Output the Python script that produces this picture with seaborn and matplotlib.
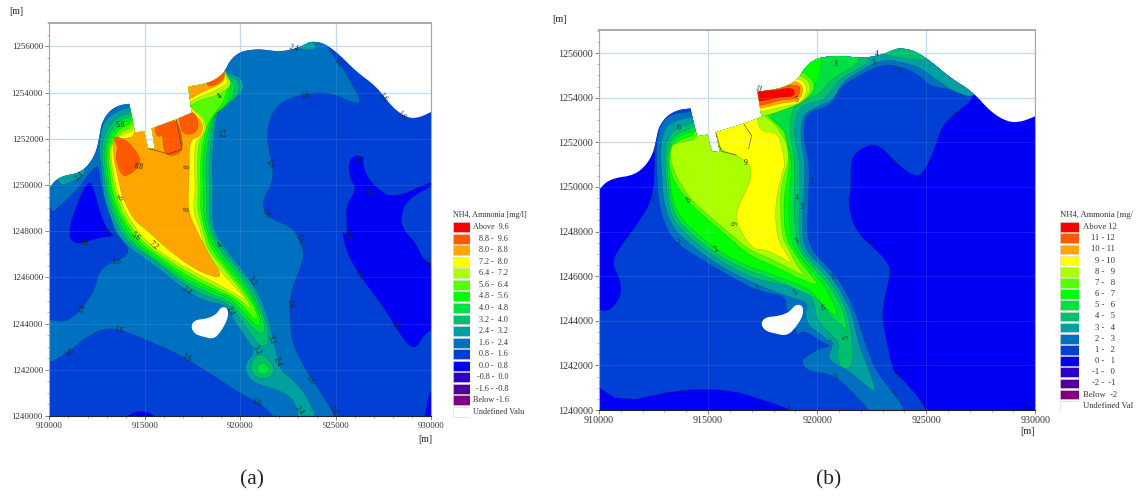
import matplotlib
matplotlib.use('Agg')
import matplotlib.pyplot as plt
from matplotlib.patches import Polygon
import numpy as np
import seaborn as sns

# Map outlines are in km east of 910000 and km north of 1240000.
COAST_WEST = [(0, 9.86), (0.3, 10.2), (0.73, 10.4), (1.6, 10.53), (2.13, 10.94), (2.48, 11.5),
              (2.65, 12.24), (2.74, 12.67), (3.09, 13.17), (3.61, 13.45), (4.19, 13.52)]
COAST_HARBOUR = [(4.49, 12.27), (4.96, 12.34), (5.17, 11.59), (5.53, 11.56), (5.36, 12.45), (6.63, 12.84), (7.45, 13.13)]
COAST_EAST = [(7.27, 14.26), (8.24, 14.4), (8.76, 14.6), (9.15, 14.86), (9.46, 15.4), (9.98, 15.77),
              (10.68, 15.87), (11.2, 15.87), (12.08, 15.77), (12.95, 15.92), (13.4, 16.1), (13.73, 16.23),
              (14.43, 16.13), (15.22, 15.63), (16.09, 14.9), (17.14, 14.26), (18.0, 13.32), (18.8, 12.89),
              (19.4, 12.93), (20, 13.17)]
ISLAND = [(7.45, 3.87), (7.63, 4.13), (8.24, 4.18), (8.76, 4.37), (9.02, 4.7), (9.32, 4.66),
          (9.32, 4.23), (8.94, 3.65), (8.59, 3.36), (8.06, 3.46), (7.63, 3.58)]

SCALE_COLORS = ['#ff0000', '#ff5a00', '#ffa500', '#ffff00', '#aaff00', '#55ff00', '#00ff00', '#00e040',
                '#00c070', '#00a0a0', '#0070c0', '#0040d4', '#0000f5', '#2a00c8', '#500098', '#800080',
                '#ffffff']
LABELS_A = ['Above  9.6', '8.8 -  9.6', '8.0 -  8.8', '7.2 -  8.0', '6.4 -  7.2', '5.6 -  6.4', '4.8 -  5.6',
            '4.0 -  4.8', '3.2 -  4.0', '2.4 -  3.2', '1.6 -  2.4', '0.8 -  1.6', '0.0 -  0.8', '-0.8 -  0.0',
            '-1.6 - -0.8', 'Below -1.6', 'Undefined Valu']
LABELS_B = ['Above 12', '11 - 12', '10 - 11', '9 - 10', '8 -   9', '7 -   8', '6 -   7', '5 -   6', '4 -   5',
            '3 -   4', '2 -   3', '1 -   2', '0 -   1', '-1 -   0', '-2 -  -1', 'Below  -2', 'Undefined Val']

# panel (a): 0.8-1.6 is the background
A_16 = [(-.3, 2.14), (0.91, 2.71), (1.95, 3.43), (3, 3.84), (4.05, 3.65), (5.27, 3.22), (6.49, 2.79), (7.71, 2.21),
        (8.94, 1.56), (9.98, 0.98), (11.2, 0.48), (12.04, -.3), (15.04, -.3), (14.8, .26), (13.65, 1.7), (12.77, 3.0),
        (12.6, 4.0), (12.6, 5.3), (13.1, 6.32), (13.38, 7.04), (12.95, 7.9), (12.6, 8.2), (11.38, 8.63), (11.12, 9.28),
        (11.64, 10.0), (11.73, 10.65), (11.47, 11.66), (11.38, 12.38), (11.73, 13.25), (12.43, 13.75), (14.0, 14.04),
        (15.05, 13.9), (15.74, 13.6), (16.39, 13.53), (15.92, 14.26), (15.39, 15.05), (14.43, 16.06), (14.43, 17),
        (-.3, 17), (-.3, 8.48), (0.99, 9.42), (1.61, 9.93), (2.22, 10.65), (2.57, 10.87), (2.65, 10.2), (2.83, 9.5),
        (3.18, 8.63), (3.44, 7.9), (3.79, 7.69), (4.31, 6.97), (2.65, 6.46), (2.39, 5.45), (1.52, 4.44), (0.73, 4.04),
        (-.3, 4.23)]
A_08_WEST = [(1.05, 8.05), (1.25, 8.75), (2.05, 10.3), (2.4, 9.65), (2.65, 8.8), (3.0, 8.1), (3.3, 7.85),
             (3.35, 7.8), (2.5, 7.7), (1.6, 7.45), (1.1, 7.6)]
A_08_EAST = [(15.6, 8.3), (15.55, 7.8), (15.3, 8.05), (15.6, 7.0), (16.4, 5.9), (17.6, 4.6), (18.3, 3.6),
             (18.9, 3.0), (19.2, 2.95), (19.6, 3.5), (20.3, 3.9), (20.3, 6.54), (19.6, 6.7), (19.2, 7.5), (18.53, 8.05),
             (18.4, 8.6), (18.7, 9.35), (20.3, 10.1), (20, 10.15), (18.0, 9.4), (17.1, 9.9), (16.6, 10.4),
             (16.4, 11.0), (16.5, 11.2), (16.0, 11.3), (15.65, 11.0), (15.75, 10.2), (16.1, 9.9), (15.5, 9.0)]
A_08_SOUTH = [(3.8, -.3), (4.2, .1), (4.8, .22), (5.4, .1), (5.8, -.3)]
A_08_CORNER = [(20.3, 1.1), (19.93, 1.1), (19.75, .4), (19.6, -.3), (20.3, -.3)]
A_24_NW = [(0.47, 9.94), (1.17, 10.14), (1.87, 10.43), (1.87, 11), (0.3, 11)]
A_24_N = [(13.12, 16.06), (13.47, 16.2), (13.9, 16.2), (13.99, 15.87), (13.3, 15.84), (12.95, 16), (13.1, 17), (14, 17)]
A_24 = [(4.3, 14.5), (4.3, 13.35), (3.7, 13.25), (3.2, 13.0), (2.75, 12.6), (2.6, 11.5), (2.75, 10.5), (2.85, 9.5),
        (3.25, 8.5), (3.8, 7.5), (5.62, 6.46), (7.2, 5.4), (8.2, 4.95), (9.3, 4.8), (9.63, 4.16), (10.5, 3.15),
        (10.77, 2.78), (10.33, 2.35), (10.24, 2.0), (10.59, 1.49), (11.38, 1.27), (12.43, .98), (13.0, .4), (13.0, -.3),
        (14.1, -.3), (13.5, .84), (12.78, 1.56), (12.08, 1.99), (11.9, 2.71), (11.64, 3.58), (11.38, 4.44), (10.86, 5.45),
        (9.98, 6.46), (9.28, 7.19), (8.67, 7.9), (8.5, 8.9), (8.59, 9.78), (8.5, 10.65), (8.59, 11.8), (8.76, 13.1),
        (9.11, 13.46), (9.9, 13.82), (10.24, 14.26), (9.98, 14.69), (9.28, 14.86), (9.1, 15.3)]
A_32 = [(4.3, 14.5), (4.26, 13.1), (3.87, 13.07), (3.26, 12.74), (2.9, 12.2), (2.72, 11.5), (2.85, 10.5), (3.0, 9.5),
        (3.4, 8.5), (4.05, 7.5), (5.6, 6.7), (7.1, 5.65), (8.3, 5.15), (9.3, 4.9), (9.95, 4.3), (10.6, 3.5), (11.0, 3.0),
        (11.47, 3.07), (11.5, 3.6), (11.2, 4.5), (10.7, 5.45), (9.8, 6.46), (9.1, 7.2), (8.55, 7.9), (8.35, 8.9),
        (8.42, 9.78), (8.33, 10.65), (8.45, 11.8), (8.65, 13.0), (9.0, 13.35), (9.7, 13.7), (10.0, 14.25), (9.8, 14.6),
        (9.25, 14.78), (9.1, 15.3)]
A_32_BULGE = [(10.68, 2.5), (10.5, 2.0), (10.86, 1.63), (11.55, 1.63), (11.82, 2.0), (11.47, 2.5), (11, 2.7)]
A_40 = [(4.3, 14.5), (4.3, 12.95), (3.87, 12.9), (3.4, 12.55), (3.05, 12.1), (2.85, 11.5), (2.95, 10.5), (3.12, 9.5),
        (3.55, 8.5), (4.3, 7.5), (5.9, 6.55), (7.2, 5.75), (8.4, 5.3), (9.4, 5.0), (10.0, 4.45), (10.7, 3.75), (11.2, 3.5),
        (11.3, 3.9), (11.0, 4.6), (10.5, 5.45), (9.6, 6.46), (8.9, 7.2), (8.43, 7.9), (8.2, 8.9), (8.25, 9.78),
        (8.17, 10.65), (8.3, 11.8), (8.55, 12.9), (8.9, 13.25), (9.5, 13.6), (9.75, 14.25), (9.6, 14.5), (9.2, 14.7),
        (9.1, 15.3)]
A_40_BULGE = [(10.86, 2.14), (10.94, 1.85), (11.38, 1.77), (11.55, 2.05), (11.2, 2.35)]
A_48 = [(4.35, 14.5), (4.35, 12.8), (3.87, 12.72), (3.5, 12.45), (3.15, 12.0), (2.95, 11.5), (3.05, 10.5), (3.22, 9.5),
        (3.7, 8.5), (4.5, 7.5), (6.1, 6.55), (7.3, 5.85), (8.5, 5.4), (9.5, 5.1), (10.05, 4.6), (10.7, 4.0), (10.95, 3.85),
        (11.1, 4.1), (10.85, 4.7), (10.3, 5.5), (9.4, 6.46), (8.7, 7.2), (8.3, 7.9), (8.05, 8.9), (8.1, 9.78), (8.03, 10.65),
        (8.15, 11.8), (8.45, 12.8), (8.75, 13.15), (9.3, 13.45), (9.5, 14.2), (9.4, 14.4), (9.1, 14.6), (9.1, 15.3)]
A_56 = [(4.4, 14.5), (4.4, 12.65), (3.87, 12.55), (3.55, 12.3), (3.25, 11.9), (3.05, 11.5), (3.15, 10.5), (3.35, 9.5),
        (3.85, 8.5), (4.7, 7.5), (6.25, 6.6), (7.45, 5.95), (8.6, 5.5), (9.6, 5.15), (10.15, 4.75), (10.6, 4.3),
        (10.85, 4.15), (10.9, 4.4), (10.6, 4.9), (10.1, 5.55), (9.2, 6.46), (8.5, 7.2), (8.2, 7.9), (7.9, 8.9), (7.95, 9.78),
        (7.9, 10.65), (8.0, 11.8), (8.35, 12.75), (8.6, 13.05), (9.1, 13.55), (9.35, 14.2), (9.2, 14.35), (8.9, 14.5), (9.0, 15.3)]
A_64 = [(7, 14), (4.45, 14.5), (4.45, 12.5), (3.87, 12.35), (3.6, 12.15), (3.3, 11.8), (3.12, 11.5), (3.25, 10.5),
        (3.5, 9.5), (4.0, 8.5), (4.9, 7.5), (6.4, 6.65), (7.6, 6.05), (8.7, 5.6), (9.7, 5.2), (10.25, 4.85), (10.6, 4.55),
        (10.4, 5.0), (9.9, 5.6), (9.05, 6.46), (8.3, 7.2), (8.1, 7.9), (7.75, 8.9), (7.8, 9.78), (7.75, 10.65), (7.8, 11.8),
        (8.1, 12.2), (8.25, 12.5), (8.1, 12.95), (7.5, 13.3)]
A_64_N = [(7.36, 13.42), (7.89, 13.68), (8.59, 13.82), (9.28, 14.11), (9.55, 14.4), (9.28, 14.76), (9.1, 15.2), (7, 15), (7, 13.4)]
A_72 = [(7, 14), (4.5, 14.5), (4.5, 12.35), (4.0, 12.25), (3.6, 12.1), (3.3, 11.7), (3.2, 11.5), (3.35, 10.5),
        (3.62, 9.5), (4.2, 8.5), (5.1, 7.5), (6.55, 6.7), (7.75, 6.15), (8.85, 5.7), (9.8, 5.25), (10.42, 4.95), (9.7, 5.6),
        (8.76, 6.46), (8.1, 7.2), (7.95, 8.0), (7.5, 8.9), (7.65, 9.78), (7.6, 10.65), (7.62, 11.8), (7.95, 12.1),
        (8.15, 12.45), (8.0, 12.9), (7.5, 13.25)]
A_72_N = [(7.36, 13.6), (7.89, 13.82), (8.59, 14.04), (9.2, 14.33), (9.37, 14.47), (9.15, 14.76), (9.1, 15.2), (7, 15), (7, 13.6)]
A_80 = [(7, 14), (4.55, 14.5), (4.55, 12.15), (4.0, 12.0), (3.35, 12.02), (3.35, 11.6), (3.4, 11.0), (3.55, 10.5), (3.8, 9.5),
        (4.4, 8.5), (5.1, 8.05), (6.14, 7.26), (7.19, 6.6), (8.06, 6.18), (9.14, 5.93), (8.41, 6.9), (7.7, 8.05), (7.24, 8.9),
        (7.33, 10.5), (7.33, 11.95), (7.89, 12.09), (8.06, 12.45), (7.98, 12.74), (7.63, 13.03), (7.45, 13.2)]
A_80_N = [(7.36, 13.71), (7.71, 13.9), (8.32, 14.14), (9.02, 14.4), (9.2, 14.62), (9.1, 15.2), (7, 15), (7, 13.71)]
A_88_WEST = [(3.3, 12.1), (3.61, 11.66), (3.45, 11.2), (3.7, 10.55), (3.96, 10.35), (4.5, 10.62), (4.85, 11.08),
             (4.25, 11.8), (3.75, 12.05)]
A_88_MID = [(5.45, 12.55), (6.7, 13.0), (7.1, 11.45), (6.2, 11.2), (5.95, 11.65), (5.95, 12.2), (5.65, 12.05)]
A_88_EAST = [(6.75, 13.1), (7.6, 13.2), (7.85, 12.6), (7.6, 12.2), (7.0, 12.2), (6.85, 12.6)]
A_88_N = [(8.2, 14.29), (8.67, 14.3), (9.07, 14.55), (9.2, 14.8), (9.1, 15.2), (8.2, 15)]
BREAKWATER_A = [(5.2, 11.58), (6.25, 11.35), (6.95, 11.55), (6.65, 12.85)]

# panel (b): 0-1 is the background
B_12 = [(17.32, 14.04), (16.4, 13.36), (15.72, 12.76), (15.34, 11.56), (14.88, 10.66), (14.57, 10.44), (13.8, 10.89),
        (12.74, 12.0), (11.97, 11.71), (11.55, 11.26), (11.55, 10.06), (11.44, 9.16), (11.67, 8.26), (12.12, 7.66),
        (12.35, 7.5), (13.2, 6.68), (13.38, 6.16), (12.97, 4.5), (13.04, 3.75), (13.5, 1.65), (13.73, 1.58), (14.95, .23),
        (14.95, -.3), (9, -.3), (8.76, .08), (5, 1.2), (-.3, .05), (-.3, 4.65), (.35, 4.35), (.96, 4.95), (1.04, 5.7), (.58, 6.6),
        (.89, 7.2), (1.8, 8.4), (2.42, 9.38), (2.57, 10.8), (2.5, 17), (17.32, 17)]
B_23 = [(4.4, 15), (4.4, 13.4), (4.1, 13.36), (3.41, 13.29), (2.95, 13.0), (2.7, 12.4), (2.62, 11.5), (2.65, 10.8), (2.72, 9.31),
        (3.03, 8.26), (3.56, 7.43), (5.17, 6.46), (6.54, 5.71), (7.3, 5.33), (8.61, 5.1), (8.55, 4.5), (9, 4.2), (9.0, 3.3),
        (9.38, 3.6), (10.14, 3.08), (10.67, 2.85), (10.14, 2.78), (9.37, 2.33), (9.3, 2.1), (9.6, 1.73), (10.45, 1.65),
        (11.05, 1.35), (11.82, .6), (12.66, -.3), (14.27, -.3), (13.27, 1.05), (12.66, 1.8), (12.36, 2.55), (12.05, 3.45),
        (11.82, 4.2), (11.36, 5.26), (10.75, 6.16), (9.83, 7.06), (9.53, 7.8), (9.6, 9.46), (9.65, 11.1), (9.37, 12.16), (9.45, 13.36),
        (10.6, 13.59), (11.06, 14.49), (11.82, 14.94), (13.04, 15.54), (14.1, 15.32), (14.88, 14.86), (15.18, 14.49),
        (16.4, 14.34), (17.17, 14.26), (17.4, 15), (14, 17), (9, 17)]
B_34 = [(4.4, 15), (4.4, 13.14), (4.17, 13.14), (3.33, 12.91), (2.98, 12.54), (2.8, 11.6), (2.87, 10.8), (2.95, 9.38), (3.26, 8.4),
        (3.79, 7.73), (5.17, 6.68), (6.54, 5.93), (7.6, 5.48), (8.84, 5.03), (9.6, 4.8), (9.45, 4.35), (9.6, 3.75), (10.14, 3.45),
        (10.75, 2.85), (10.52, 2.48), (10.6, 2.18), (11.5, 1.73), (12.28, 1.05), (12.74, .75), (12.43, 1.65), (12.05, 2.55),
        (11.82, 3.3), (11.59, 4.35), (11.05, 5.4), (10.45, 6.23), (9.53, 7.06), (9.3, 7.8), (9.37, 9.46), (9.45, 11.1), (9.22, 12.2),
        (9.3, 13.2), (10.0, 13.6), (10.75, 13.9), (11.15, 14.7), (11.82, 15.1), (12.6, 15.55), (13.2, 15.72), (14.1, 15.55), (14.85, 15.27),
        (15.6, 14.7), (16.4, 14.2), (17.3, 14.0), (17.4, 15), (14, 17), (9, 17)]
B_45 = [(4.4, 15), (4.4, 13), (4.2, 12.85), (3.55, 12.65), (3.15, 12.2), (3.0, 11.5), (3.05, 10.8), (3.12, 9.4), (3.4, 8.5), (3.95, 7.9),
        (5.2, 6.9), (6.54, 6.13), (7.6, 5.75), (8.76, 5.56), (9.53, 5.4), (9.91, 4.65), (9.91, 4.35), (10.14, 3.83), (11.05, 3.0),
        (10.9, 2.48), (11.05, 1.95), (11.36, 1.8), (11.67, 2.1), (11.59, 3.3), (11.36, 4.5), (10.82, 5.48), (10.2, 6.23), (9.37, 7.06),
        (9.15, 7.8), (9.19, 9.46), (9.22, 11.1), (8.92, 12.3), (9.07, 13.44), (9.52, 13.72), (10.29, 13.89), (10.6, 14.26), (11.06, 14.86),
        (11.97, 15.32), (12.43, 15.69), (12.43, 17), (9, 17)]
B_45_N = [(12.81, 15.99), (13.5, 15.84), (14.57, 15.69), (15.03, 15.69), (15.03, 17), (12.81, 17)]
B_56 = [(4.5, 15), (4.5, 12.7), (4.3, 12.65), (3.7, 12.45), (3.3, 12.1), (3.1, 11.5), (3.12, 10.8), (3.25, 9.4), (3.55, 8.6), (4.1, 8.0),
        (5.2, 7.1), (6.54, 6.35), (7.6, 6.0), (9.6, 5.2), (10.2, 4.8), (10.75, 4.05), (11.2, 3.75), (11.44, 3.3), (11.2, 4.5), (10.6, 5.56),
        (9.98, 6.23), (9.22, 7.06), (9, 7.8), (8.92, 9.46), (9.0, 11.1), (8.69, 12.61), (8.92, 13.66), (9.3, 13.89), (9.83, 14.04),
        (10.29, 14.34), (10.67, 14.86), (11.66, 15.39), (11.97, 15.69), (11.97, 17), (9, 17)]
B_67 = [(4.55, 15), (4.55, 12.55), (4.3, 12.5), (3.7, 12.3), (3.35, 12.0), (3.17, 11.5), (3.2, 10.8), (3.35, 9.45), (3.65, 8.75), (4.2, 8.15),
        (5.2, 7.3), (6.54, 6.55), (7.6, 6.2), (9.6, 5.45), (9.99, 5.03), (10.45, 4.5), (11.05, 4.05), (10.45, 5.48), (9.76, 6.23), (8.99, 7.13),
        (8.76, 7.8), (8.68, 9.46), (8.9, 11.1), (8.45, 12.46), (8.23, 12.76), (7.85, 13.06), (8.1, 13.5), (8.84, 13.74), (9.37, 14.04),
        (9.9, 14.49), (10.21, 15.32), (10.21, 17), (9, 17)]
B_78 = [(7, 13.8), (4.6, 15), (4.6, 12.4), (3.72, 12.15), (3.45, 11.85), (3.2, 11.5), (3.27, 10.8), (3.45, 10.2), (4.17, 9.25), (4.86, 8.65),
        (5.93, 7.75), (6.85, 6.95), (7.9, 6.5), (9.6, 5.7), (10.1, 5.6), (9.5, 6.3), (8.9, 7.1), (8.53, 7.8), (8.45, 9.46), (8.78, 11.1),
        (8.55, 12.4), (8.3, 12.7), (7.95, 13.0), (7.6, 13.3)]
B_78_N = [(7, 15.5), (9.2, 15.3), (10, 14.6), (9.55, 13.9), (8.5, 13.55), (7.8, 13.25), (7, 13.3)]
B_89 = [(7, 14), (4.7, 15), (4.7, 12.16), (3.72, 12.01), (3.26, 11.86), (3.33, 10.8), (4.17, 9.46), (4.86, 8.86), (5.93, 7.96), (6.85, 7.2),
        (7.9, 6.76), (8.99, 6.23), (9.53, 5.93), (9.05, 6.5), (8.7, 7.2), (8.38, 7.8), (8.3, 9.46), (8.4, 10.3), (8.7, 11.1), (8.65, 11.9),
        (8.3, 12.46), (8.15, 12.75), (7.45, 13.3)]
B_89_N = [(7, 15), (9.2, 15.1), (9.8, 14.55), (9.45, 13.85), (8.6, 13.5), (7.7, 13.2), (7, 13.1)]
B_910 = [(5.2, 14), (5.2, 12.6), (5.55, 11.64), (6.32, 11.43), (6.77, 11.11), (7.0, 10.8), (6.93, 10.21), (6.39, 9.16), (6.24, 8.56), (6.62, 7.81),
         (7.08, 7.2), (7.62, 7.2), (8.38, 6.83), (8.84, 6.53), (8.68, 6.9), (8.15, 7.66), (8.07, 9.31), (8.45, 10.8), (8.53, 10.96), (8.38, 11.86),
         (8.15, 12.46), (7.39, 12.46), (7.2, 13.3), (7, 14)]
B_910_N = [(7, 14.9), (9.1, 14.95), (9.6, 14.5), (9.3, 13.75), (8.4, 13.6), (7.6, 13.4), (7, 13.3)]
B_1011 = [(7, 14.7), (9, 14.8), (9.4, 14.45), (9.2, 13.85), (8.3, 13.75), (7.6, 13.55), (7, 13.5)]
B_1112 = [(7, 14.5), (9.1, 14.6), (9.25, 14.4), (9.1, 13.95), (8.3, 13.9), (7.69, 13.7), (7, 13.6)]
B_12UP = [(7, 14.4), (8.0, 14.3), (8.68, 14.45), (8.99, 14.34), (8.92, 14.04), (8.3, 14.04), (7.69, 13.89), (7, 13.8)]
BREAKWATER_B = [(5.35, 12.45), (5.6, 11.6), (6.3, 11.43)]
BREAKWATER_B2 = [(6.65, 12.8), (7.0, 12.3), (6.85, 11.7)]

# scale row index -> outlines, painted low to high
LAYERS_A = [(10, [A_16]), (12, [A_08_WEST, A_08_EAST, A_08_SOUTH, A_08_CORNER]), (9, [A_24_NW]),
            (9, [A_24, A_24_N]), (8, [A_32, A_32_BULGE]), (7, [A_40, A_40_BULGE]), (6, [A_48]), (5, [A_56]),
            (4, [A_64, A_64_N]), (3, [A_72, A_72_N]), (2, [A_80, A_80_N]),
            (1, [A_88_WEST, A_88_MID, A_88_EAST, A_88_N])]
LAYERS_B = [(11, [B_12]), (10, [B_23]), (9, [B_34]), (8, [B_45, B_45_N]), (7, [B_56]), (6, [B_67]), (5, [B_78, B_78_N]),
            (4, [B_89, B_89_N]), (3, [B_910, B_910_N]), (2, [B_1011]), (1, [B_1112]), (0, [B_12UP])]

TEXT_A = [('5.6', 3.7, 12.6, 0), ('8.8', 4.66, 10.8, -10), ('8', 3.79, 9.42, 50), ('8', 7.28, 10.8, 80), ('8', 7.24, 8.92, 70),
          ('7.2', 8.94, 12.24, -80), ('4', 8.94, 13.85, 40), ('2.4', 1.6, 10.4, 45), ('0.8', 1.78, 7.47, 0), ('4', 3.09, 8.05, 70),
          ('5.6', 4.49, 7.76, -40), ('7.2', 5.44, 7.4, -40), ('4', 8.94, 7.4, 40), ('3.2', 10.63, 5.82, -50), ('2.4', 7.2, 5.41, -40),
          ('1.6', 3.5, 6.65, 0), ('1.6', 1.7, 4.66, 60), ('1.6', 3.6, 3.75, -20), ('1.6', 1.08, 2.74, 40), ('1.6', 7.2, 2.54, -30),
          ('3.2', 10.85, 2.83, -60), ('3.2', 11.64, 3.29, -70), ('2.4', 11.95, 2.35, -70), ('1.6', 10.85, .58, -20), ('2.4', 9.46, 4.52, -60),
          ('1.6', 11.5, 10.9, -60), ('1.6', 11.3, 8.77, -60), ('1.6', 13.04, 7.69, -70), ('1.6', 12.6, 4.88, -85), ('1.6', 13.65, 1.56, -55),
          ('2.4', 13.1, .26, -50), ('1.6', 14.8, .26, -60), ('0.8', 16.2, 6.1, -55), ('0.8', 18.1, 3.94, -50), ('0.8', 19.75, 6.68, -85),
          ('0.8', 15.6, 7.8, -65), ('1.6', 13.39, 13.87, 15), ('2.4', 12.8, 15.9, -15), ('1.6', 15.1, 15.3, -55), ('1.6', 17.45, 13.8, -50),
          ('1.6', 18.4, 13, -50), ('0.8', 16.3, 11.15, 75), ('0.8', 16.7, 9.67, -55)]
TEXT_B = [('6', 3.64, 12.64, 0), ('9', 6.73, 11.07, 0), ('8', 4.13, 9.41, 40), ('9', 6.27, 8.38, 90), ('5', 9.07, 13.89, 0),
          ('4', 9.07, 9.49, 0), ('3', 9.07, 7.58, 30), ('2', 3.64, 7.5, 0), ('1', 2.42, 9.46, 0), ('2', 13.8, 15.32, 90),
          ('3', 10.85, 15.5, 0), ('4', 12.74, 15.95, 0), ('3', 12.58, 15.54, 0), ('1', 16.34, 13.24, 40), ('1', 13.65, 11.07, 40),
          ('1', 14.65, 10.4, 0), ('1', 11.44, 9.38, 0), ('2', 9.75, 10.2, 0), ('3', 9.3, 9.1, 0), ('11', 7.31, 14.38, -20),
          ('2', 5.4, 7.2, 30), ('2', 7.27, 5.44, 20), ('1', 8.99, 5.26, 40), ('1', 12.4, 7.48, 0), ('1', 13.35, 6.11, 0),
          ('3', 10.72, 5.93, 30), ('6', 10.25, 4.58, 0), ('5', 11.36, 3.26, 90), ('3', 10.64, 3.0, 30), ('1', 13.66, 1.55, 0),
          ('2', 10.9, 1.47, 30), ('1', 13.58, .7, 30), ('1', 14.88, .23, 40), ('1', 8.69, .15, 0), ('1', 3.72, .75, 0)]


def smooth(points, rounds=2):
    # corner cutting so the hand read outlines come out round
    pts = np.array(points, dtype=float)
    for _ in range(rounds):
        nxt = np.roll(pts, -1, axis=0)
        pts = np.column_stack([0.75 * pts + 0.25 * nxt, 0.25 * pts + 0.75 * nxt]).reshape(-1, 2)
    return pts


def smooth_open(points, rounds=2):
    # same, but the two end points stay where they are
    pts = np.array(points, dtype=float)
    for _ in range(rounds):
        cut = np.column_stack([0.75 * pts[:-1] + 0.25 * pts[1:], 0.25 * pts[:-1] + 0.75 * pts[1:]]).reshape(-1, 2)
        pts = np.vstack([pts[:1], cut, pts[-1:]])
    return pts


def to_map(pts):
    pts = np.asarray(pts, dtype=float)
    return 910000 + 1000 * pts[:, 0], 1240000 + 1000 * pts[:, 1]


def draw_map(ax, background, layers, labels, breakwaters, top, size):
    outline = np.vstack([[(0, 0)], smooth_open(COAST_WEST), COAST_HARBOUR, smooth_open(COAST_EAST), [(20, 0)]])
    x, y = to_map(outline)
    domain = Polygon(np.column_stack([x, y]), closed=True, facecolor=background, edgecolor='none', zorder=2)
    ax.add_patch(domain)
    for row, outlines in layers:
        for shape in outlines:
            xs, ys = to_map(smooth(shape))
            for part in ax.fill(xs, ys, facecolor=SCALE_COLORS[row], edgecolor=(0, 0.1, 0.1, 0.3), linewidth=0.3, zorder=3):
                part.set_clip_path(domain)
    xs, ys = to_map(smooth(ISLAND))
    ax.fill(xs, ys, color='white', zorder=4)
    for line in breakwaters:
        xs, ys = to_map(line)
        ax.plot(xs, ys, color='#333333', lw=0.5, ls=(0, (2, 0.6)), zorder=5)
    for text, kx, ky, rot in labels:
        mx, my = to_map([(kx, ky)])
        ax.text(mx[0], my[0], text, fontsize=5.5, rotation=rot, ha='center', va='center', color='#1a2a2a', zorder=6)

    ax.set_xlim(910000, 930000)
    ax.set_ylim(1240000, top)
    ax.set_xticks(np.arange(910000, 930001, 5000))
    ax.set_yticks(np.arange(1240000, 1256001, 2000))
    ax.set_xticks(np.arange(910000, 930001, 1000), minor=True)
    ax.set_yticks(np.arange(1240000, 1257001, 500), minor=True)
    ax.ticklabel_format(useOffset=False, style='plain')
    ax.tick_params(which='major', length=3, width=0.5, labelsize=size, pad=1.5, color='#555555', labelcolor='#333333',
                   bottom=True, left=True)
    ax.tick_params(which='minor', length=1.5, width=0.4, color='#777777', bottom=True, left=True)
    ax.grid(True, which='major', color='#c5dcf0', lw=0.9)
    ax.set_axisbelow(True)
    ax.hlines(np.arange(1242000, 1256001, 2000), 910000, 930000, color='#c5dcf0', lw=0.6, alpha=0.15, zorder=5)
    ax.vlines(np.arange(915000, 930000, 5000), 1240000, top, color='#c5dcf0', lw=0.6, alpha=0.15, zorder=5)
    for side, spine in ax.spines.items():
        spine.set_visible(True)
        spine.set_color('#222222' if side == 'bottom' else '#a8a8a8')
        spine.set_linewidth(1.4 if side == 'top' else 0.8)
        spine.set_zorder(7)


def draw_scale(ax, labels, title, size, right_units, undefined_units):
    rows = list(range(len(labels)))
    sns.barplot(x=[1] * len(rows), y=rows, hue=rows, palette=SCALE_COLORS, orient='h', width=0.86, saturation=1,
                edgecolor='#d0d0d0', linewidth=0.4, legend=False, dodge=False, ax=ax)
    ax.set_xlim(0, 1)
    ax.set_axis_off()
    for row, text in zip(rows, labels):
        if row == rows[-1] or text.startswith('Below') or text.startswith('Above'):
            ax.text(undefined_units, row, text, fontsize=size, ha='left', va='center', color='#333333')
        else:
            ax.text(right_units, row, text, fontsize=size, ha='right', va='center', color='#333333')
    ax.text(0, -1.05, title, fontsize=size, ha='left', va='center', color='#333333', clip_on=False)


W, H = 1141, 496
sns.set_theme(style='white')
plt.rcParams['font.family'] = ['Liberation Serif', 'DejaVu Serif']


def box(left, top, right, bottom):
    return [left / W, 1 - bottom / H, (right - left) / W, (bottom - top) / H]


fig = plt.figure(figsize=(W / 100, H / 100), dpi=100, facecolor='white')

ax_a = fig.add_axes(box(49.3, 23, 431.3, 416))
draw_map(ax_a, SCALE_COLORS[11], LAYERS_A, TEXT_A, [BREAKWATER_A], 1257017, 6.4)
ax_b = fig.add_axes(box(599, 30, 1035.3, 410))
draw_map(ax_b, SCALE_COLORS[12], LAYERS_B, TEXT_B, [BREAKWATER_B, BREAKWATER_B2], 1257035, 7.2)

scale_a = fig.add_axes(box(453, 221.2, 470, 417.8))
draw_scale(scale_a, LABELS_A, 'NH4, Ammonia [mg/l]', 5.9, 3.24, 1.18)
scale_b = fig.add_axes(box(1060, 221.4, 1079, 411.4))
draw_scale(scale_b, LABELS_B, 'NH4, Ammonia [mg/', 6.2, 2.9, 1.2)

for text, px, py, size in [('[m]', 16, 12, 7), ('[m]', 425, 439, 7), ('[m]', 560, 20, 7.4), ('[m]', 1028, 432, 7.4),
                           ('(a)', 252, 480, 15.5), ('(b)', 829, 480, 15.5)]:
    fig.text(px / W, 1 - py / H, text, fontsize=size, ha='center', va='center', color='#222222')

fig.savefig('out.png', dpi=100)
